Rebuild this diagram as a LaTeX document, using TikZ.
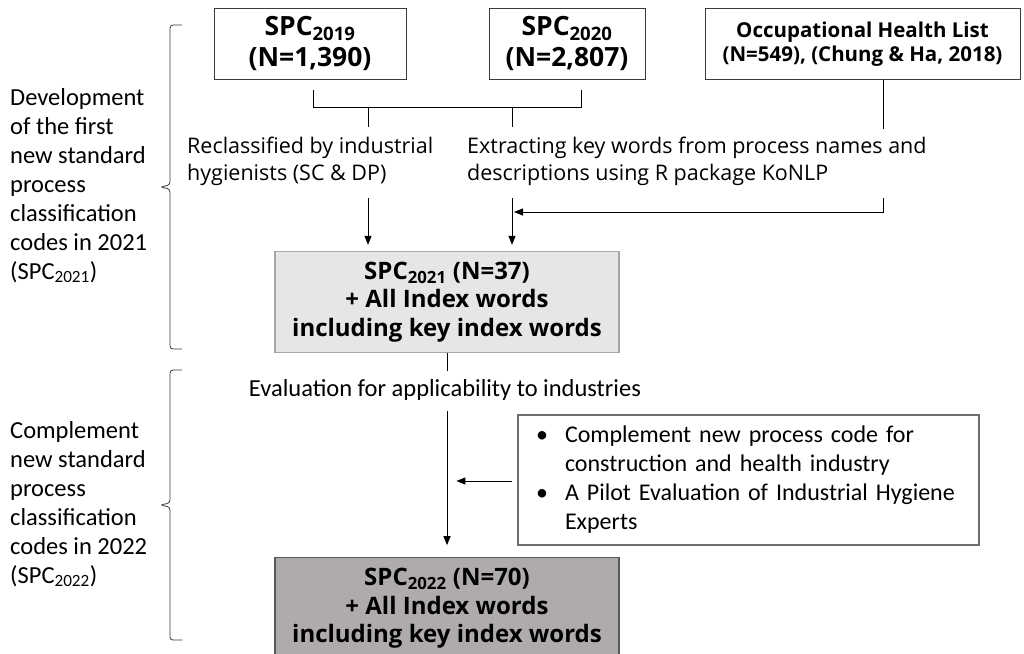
\documentclass[tikz,border=0pt]{standalone}
\usepackage{fontspec}
\setmainfont{Open Sans}
\newfontfamily\calfont{Carlito}
\usepackage{tikz}
\usetikzlibrary{
    arrows.meta,
    positioning,
    calc
}
\definecolor{spcLine}{HTML}{3A3A3A}
\definecolor{spcLightFill}{HTML}{E7E6E6}
\definecolor{spcLightLine}{HTML}{A6A6A6}
\definecolor{spcDarkFill}{HTML}{AFABAB}
\definecolor{spcDarkLine}{HTML}{595959}
\definecolor{spcNoteLine}{HTML}{6E6E6E}
\tikzset{
    spcSource/.style={
        draw=spcLine,
        fill=white,
        line width=1pt,
        align=center,
        inner sep=2pt,
        minimum height=71pt,
        font=\bfseries\fontsize{26.5}{31}\selectfont
    },
    spcResult/.style={
        draw=spcLightLine,
        fill=spcLightFill,
        line width=1.3pt,
        align=center,
        inner sep=2pt,
        minimum width=344pt,
        minimum height=101pt,
        font=\bfseries\fontsize{24}{28.5}\selectfont
    },
    spcFinal/.style={spcResult,draw=spcDarkLine,fill=spcDarkFill},
    spcNote/.style={
        draw=spcNoteLine,
        line width=1.2pt,
        align=left,
        inner xsep=18pt,
        inner ysep=0pt,
        text width=425pt,
        minimum height=130pt,
        font=\calfont\fontsize{24}{29}\selectfont
    },
    spcSide/.style={align=left,inner sep=0pt,font=\calfont\fontsize{24.5}{29}\selectfont},
    spcStep/.style={align=left,inner sep=0pt,font=\fontsize{21.5}{27}\selectfont},
    spcArrow/.style={-{Triangle[length=9pt,width=7pt]},line width=1pt,draw=black},
    spcLink/.style={line width=1pt,draw=black},
    spcBrace/.style={line width=0.8pt,draw=spcLine,rounded corners=3pt}
}

\begin{document}
\begin{tikzpicture}[x=1pt,y=-1pt]
        \useasboundingbox (0,0) rectangle (1024,653);

        % sources
        \node[spcSource,minimum width=192pt] (spc19) at (310,44)
            {SPC\textsubscript{2019}\\(N=1,390)};
        \node[spcSource,minimum width=156pt] (spc20) at (567,44)
            {SPC\textsubscript{2020}\\(N=2,807)};
        \node[spcSource,minimum width=315pt,font=\bfseries\fontsize{20.5}{24}\selectfont] (ohl) at (862.5,44)
            {Occupational Health List\\(N=549), (Chung \& Ha, 2018)};

        % steps
        \node[spcStep,anchor=north west] (reclass) at (187,137)
            {Reclassified by industrial\\hygienists (SC \& DP)};
        \node[spcStep,anchor=north west] (extract) at (467,137)
            {Extracting key words from process names and\\descriptions using R package KoNLP};

        % results
        \node[spcResult] (spc21) at (447,302)
            {SPC\textsubscript{2021} (N=37)\\+ All Index words\\including key index words};
        \node[spcFinal,below=204pt of spc21] (spc22)
            {SPC\textsubscript{2022} (N=70)\\+ All Index words\\including key index words};

        \node[font=\calfont\fontsize{24.5}{29}\selectfont,inner sep=0pt] (eval) at (445,390)
            {Evaluation for applicability to industries};
        \node[spcNote] (note) at (748.5,480)
            {\begin{tabular}{@{}l@{}l@{}}
             \makebox[29pt][l]{\textbullet} & Complement new process code for\\
                         & construction and health industry\\
             \makebox[29pt][l]{\textbullet} & A Pilot Evaluation of Industrial Hygiene\\
                         & Experts
             \end{tabular}};

        % side labels
        \node[spcSide,anchor=north west] (devLabel) at (10,88)
            {Development\\of the first\\new standard\\process\\classification\\codes in 2021\\(SPC\textsubscript{2021})};
        \node[spcSide,anchor=north west] (compLabel) at (10,421)
            {Complement\\new standard\\process\\classification\\codes in 2022\\(SPC\textsubscript{2022})};

        % helper points
        \coordinate (reclassX) at (368,0);
        \coordinate (extractX) at (512,0);
        \coordinate (ohlX) at (883,0);

        % merge of the two sources
        \draw[spcLink] ($(spc19.south)+(3,10)$) -- ++(0,17) -| ($(spc20.south)+(14,10)$);
        \draw[spcLink] ($(reclassX)+(0,108)$) -- ++(0,19);
        \draw[spcLink] ($(extractX)+(0,108)$) -- ++(0,19);

        % arrows into SPC2021
        \draw[spcArrow,shorten >=6pt] ($(reclassX)+(0,198)$) -- (reclassX |- spc21.north);
        \draw[spcArrow,shorten >=6pt] ($(extractX)+(0,198)$) -- (extractX |- spc21.north);
        \draw[spcLink] (ohlX |- ohl.south) -- ++(0,49);
        \draw[spcArrow] ($(ohlX)+(0,198)$) -- ++(0,14) -- ($(extractX)+(2,212)$);

        % second stage
        \draw[spcLink] (spc21.south) -- ++(0,18);
        \draw[spcArrow,shorten >=12pt] ($(spc21.south)+(0,58)$) -- (spc22.north);
        \draw[spcArrow] ($(note.west)+(-5,1)$) -- ++(-56,0);

        % braces
        \draw[spcBrace] (182,25) -| (170,185) -- (160,187) -- (170,189) |- (182,349);
        \draw[spcBrace] (182,370) -| (170,503) -- (160,505) -- (170,507) |- (182,640);
\end{tikzpicture}
\end{document}
